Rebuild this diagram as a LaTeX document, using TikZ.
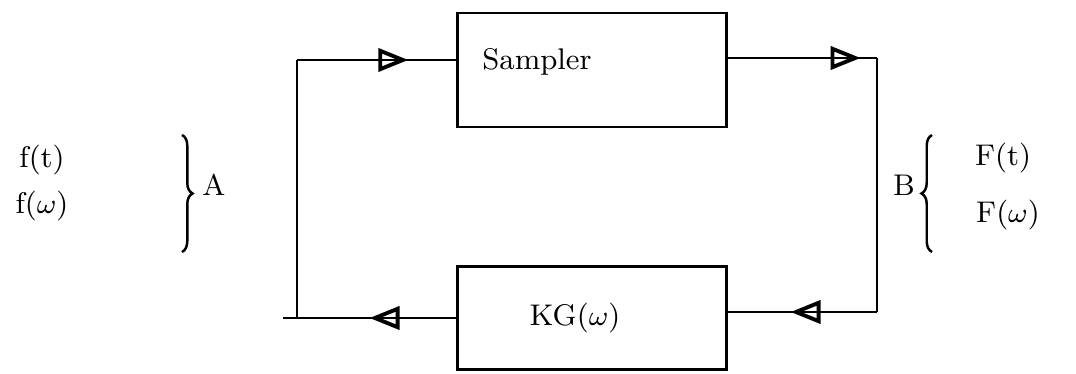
\documentclass[tikz,border=0pt]{standalone}
\usetikzlibrary{arrows.meta,decorations.markings,decorations.pathreplacing}
\begin{document}
\begin{tikzpicture}[x=0.01cm,y=-0.01cm,
  every node/.style={font=\fontsize{8.5}{10}\selectfont},
  blockbox/.style={draw,line width=0.8pt,minimum width=2.69cm,inner sep=0pt},
  wire/.style={line width=0.7pt},
  tipat/.style={postaction={decorate},decoration={markings,
      mark=at position #1 with {\arrow[line width=1.1pt]{Triangle[open,length=3mm,width=2.3mm]}}}},
  bracket/.style={decorate,decoration={brace,amplitude=3pt},line width=0.7pt}]
\useasboundingbox (0,0) rectangle (1076,374);

% blocks
\node[blockbox,minimum height=1.14cm] (sampler) at (592,70) {};
\node[blockbox,minimum height=1.03cm] (kg) at (592,318) {};
\node (samplertext) at (537,62) {Sampler};
\node (kgtext) at (575,318) {KG($\omega$)};

% loop corners
\coordinate (tl) at (297,60);
\coordinate (bl) at (297,318);
\coordinate (blend) at (283,318);
\coordinate (tr) at (877,58);
\coordinate (br) at (877,312);

% feedback loop
\draw[wire] (blend) -- (bl) -- (tl);
\draw[wire,tipat=0.70] (tl) -- (tl -| sampler.west);
\draw[wire,tipat=0.89] (tr -| sampler.east) -- (tr);
\draw[wire] (tr) -- (br);
\draw[wire,tipat=0.58] (br) -- (br -| kg.east);
\draw[wire,tipat=0.50] (kg.west) -- (blend);

% left signal group
\node (ft) at (42,160) {f(t)};
\node (fw) at (42,206) {f($\omega$)};
\coordinate (atop) at (182,135);
\coordinate (abot) at (182,252);
\draw[bracket] (atop) -- (abot);
\node (A) at (214,185) {A};

% right signal group
\node (B) at (904,185) {B};
\coordinate (btop) at (932,135);
\coordinate (bbot) at (932,252);
\draw[bracket] (bbot) -- (btop);
\node (Ft) at (1003,158) {F(t)};
\node (Fw) at (1008,215) {F($\omega$)};
\end{tikzpicture}
\end{document}
